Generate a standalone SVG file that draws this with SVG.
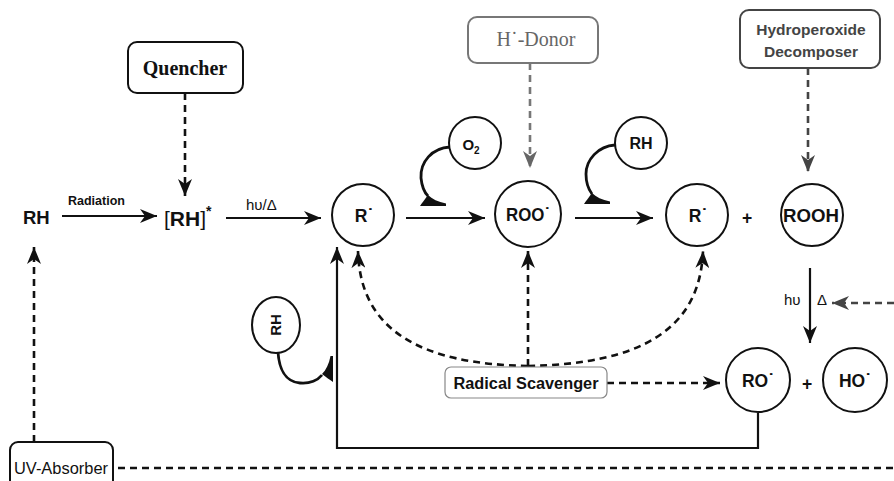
<svg xmlns="http://www.w3.org/2000/svg" width="894" height="481" viewBox="0 0 894 481">
  <style>
    .sans { font-family: "Liberation Sans", Arial, sans-serif; }
    .serif { font-family: "Liberation Serif", "Times New Roman", serif; }
    .b { font-weight: bold; }
    .node { fill: #fff; stroke: #111; stroke-width: 2; }
    .lbl { font-family: "Liberation Sans", Arial, sans-serif; font-weight: bold; font-size: 17.5px; fill: #111; text-anchor: middle; }
    .solid { fill: none; stroke: #111; stroke-width: 2.2; }
    .dash { fill: none; stroke: #111; stroke-width: 2.6; stroke-dasharray: 7 5; }
    .curve { fill: none; stroke: #111; stroke-width: 2.8; }
  </style>
  <defs>
    <marker id="ah" markerUnits="userSpaceOnUse" markerWidth="20" markerHeight="14" refX="17" refY="7" orient="auto">
      <path d="M0,0 L17,7 L0,14 L5,7 z" fill="#111"/>
    </marker>
    <marker id="ahGray" markerUnits="userSpaceOnUse" markerWidth="20" markerHeight="14" refX="17" refY="7" orient="auto">
      <path d="M0,0 L17,7 L0,14 L5,7 z" fill="#666"/>
    </marker>
    <marker id="ahDark" markerUnits="userSpaceOnUse" markerWidth="20" markerHeight="14" refX="17" refY="7" orient="auto">
      <path d="M0,0 L17,7 L0,14 L5,7 z" fill="#444"/>
    </marker>
    <!-- half arrowhead: flat base on y=0, tip at (26,0) -->
    <path id="harpoon" d="M0,0 L26,0 L26,-2.5 C18,-4 12,-7 8,-11 C5,-7 2,-3 0,0 z" fill="#111"/>
  </defs>

  <rect width="894" height="481" fill="#fff"/>

  <!-- connectors -->
  <g id="connectors">
    <line class="solid" x1="62" y1="216" x2="157" y2="216" marker-end="url(#ah)"/>
    <line class="solid" x1="226" y1="218" x2="321" y2="218" marker-end="url(#ah)"/>
    <line class="solid" x1="406" y1="218" x2="485" y2="218" marker-end="url(#ah)"/>
    <line class="solid" x1="575" y1="218" x2="653" y2="218" marker-end="url(#ah)"/>

    <line class="dash" x1="185" y1="93" x2="185" y2="196" marker-end="url(#ah)"/>
    <line class="dash" x1="530" y1="63" x2="530" y2="168" style="stroke:#777" marker-end="url(#ahGray)"/>
    <line class="dash" x1="808" y1="68" x2="808" y2="172" style="stroke:#444" marker-end="url(#ahDark)"/>

    <line class="solid" x1="810" y1="268" x2="810" y2="343" marker-end="url(#ah)"/>
    <line class="dash" x1="894" y1="303" x2="832" y2="303" style="stroke:#444" marker-end="url(#ahDark)"/>

    <!-- O2 addition -->
    <path class="curve" d="M450,147 C432,148 420,162 421,178 C422,188 425,193 428,196"/>
    <use href="#harpoon" x="420" y="206"/>
    <!-- RH abstraction -->
    <path class="curve" d="M615,145 C598,146 586,160 586,174 C586,184 589,190 592,194"/>
    <use href="#harpoon" x="584" y="204"/>
    <!-- lower RH -->
    <path class="curve" d="M278,352 C279,368 285,382 300,383 C310,384 318,380 322,375"/>
    <use href="#harpoon" transform="translate(333,382) rotate(-90)"/>

    <!-- radical scavenger paths -->
    <path class="dash" d="M528,366 C420,364 360,330 358,251" marker-end="url(#ah)"/>
    <line class="dash" x1="528" y1="366" x2="528" y2="251" marker-end="url(#ah)"/>
    <path class="dash" d="M528,366 C640,364 700,330 703,251" marker-end="url(#ah)"/>
    <line class="dash" x1="607" y1="383" x2="720" y2="383" marker-end="url(#ah)"/>

    <!-- RO· feedback -->
    <path class="solid" d="M758,413 L758,448 L337,448 L337,247" marker-end="url(#ah)"/>

    <!-- UV absorber -->
    <line class="dash" x1="34" y1="442" x2="34" y2="247" marker-end="url(#ah)"/>
    <line class="dash" x1="118" y1="468" x2="894" y2="468"/>
  </g>

  <!-- plain labels -->
  <g id="rh-start">
    <text class="sans b" x="23" y="224" font-size="18.5" fill="#111">RH</text>
  </g>
  <g id="label-radiation">
    <text class="sans b" x="68" y="205" font-size="12.5" fill="#111">Radiation</text>
  </g>
  <g id="rh-excited">
    <text x="164" y="226" font-size="21" fill="#111" class="sans"><tspan font-weight="normal">[</tspan><tspan font-weight="bold">RH</tspan><tspan font-weight="normal">]</tspan><tspan font-weight="bold" font-size="14" dy="-10">*</tspan></text>
  </g>
  <g id="label-hv1">
    <text class="sans" x="246" y="210" font-size="15" fill="#111">hυ/Δ</text>
  </g>

  <g id="quencher">
    <rect x="128" y="42" width="115" height="51" rx="9" fill="#fff" stroke="#111" stroke-width="2"/>
    <text class="serif b" x="185" y="75" font-size="20" text-anchor="middle" fill="#111">Quencher</text>
  </g>
  <g id="h-donor">
    <rect x="468" y="17" width="130" height="46" rx="9" fill="#fff" stroke="#777" stroke-width="2"/>
    <text class="serif" x="536" y="46" font-size="20" text-anchor="middle" fill="#666">H˙-Donor</text>
  </g>
  <g id="hydroperoxide-decomposer">
    <rect x="740" y="10" width="140" height="58" rx="9" fill="#fff" stroke="#444" stroke-width="2"/>
    <text class="sans b" x="811" y="35" font-size="15.5" text-anchor="middle" fill="#444">Hydroperoxide</text>
    <text class="sans b" x="811" y="57" font-size="15.5" text-anchor="middle" fill="#444">Decomposer</text>
  </g>

  <g id="r-radical-1">
    <circle class="node" cx="363" cy="215" r="31"/>
    <text class="lbl" x="364" y="222">R˙</text>
  </g>
  <g id="o2">
    <circle class="node" cx="475" cy="143" r="26" stroke-width="1.6"/>
    <text class="sans b" x="471" y="150" font-size="15" text-anchor="middle" fill="#111">O<tspan font-size="10" dy="4">2</tspan></text>
  </g>
  <g id="roo-radical">
    <circle class="node" cx="528" cy="214" r="33"/>
    <text class="lbl" x="528" y="221" textLength="44" lengthAdjust="spacingAndGlyphs">ROO˙</text>
  </g>
  <g id="rh-upper">
    <circle class="node" cx="641" cy="143" r="26" stroke-width="1.6"/>
    <text class="sans b" x="641" y="149" font-size="16" text-anchor="middle" fill="#111">RH</text>
  </g>
  <g id="r-radical-2">
    <circle class="node" cx="697" cy="215" r="31"/>
    <text class="lbl" x="698" y="222">R˙</text>
  </g>
  <g id="plus-1">
    <text class="lbl" x="747" y="224">+</text>
  </g>
  <g id="rooh">
    <circle class="node" cx="812" cy="215" r="31"/>
    <text class="lbl" x="811" y="222" font-size="18" textLength="56" lengthAdjust="spacingAndGlyphs">ROOH</text>
  </g>
  <g id="label-hv2">
    <text class="sans" x="784" y="305" font-size="15" fill="#111">hυ</text>
    <text class="sans" x="817" y="305" font-size="15" fill="#111">Δ</text>
  </g>
  <g id="ro-radical">
    <circle class="node" cx="758" cy="380" r="32"/>
    <text class="lbl" x="758" y="387">RO˙</text>
  </g>
  <g id="plus-2">
    <text class="lbl" x="807" y="390">+</text>
  </g>
  <g id="ho-radical">
    <circle class="node" cx="855" cy="380" r="32"/>
    <text class="lbl" x="855" y="387">HO˙</text>
  </g>

  <g id="rh-lower">
    <ellipse class="node" cx="276" cy="325" rx="24" ry="28" stroke-width="1.6"/>
    <text class="sans b" x="0" y="0" font-size="15" text-anchor="middle" fill="#111" transform="translate(281,325) rotate(-90)">RH</text>
  </g>

  <g id="radical-scavenger">
    <rect x="445" y="367" width="162" height="31" rx="6" fill="#fff" stroke="#888" stroke-width="1.2"/>
    <text class="sans b" x="526" y="389" font-size="16" text-anchor="middle" fill="#111" textLength="145" lengthAdjust="spacingAndGlyphs">Radical Scavenger</text>
  </g>

  <g id="uv-absorber">
    <rect x="10" y="442" width="103" height="50" rx="8" fill="#fff" stroke="#111" stroke-width="2"/>
    <text class="sans" x="14" y="474" font-size="17" fill="#111" textLength="94" lengthAdjust="spacingAndGlyphs">UV-Absorber</text>
  </g>
</svg>
